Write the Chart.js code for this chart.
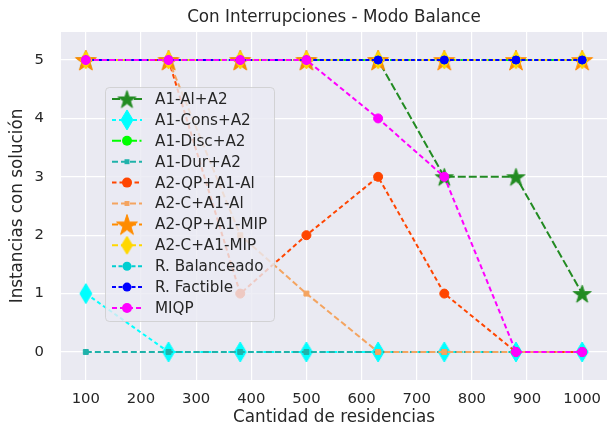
<!DOCTYPE html>
<html>
<head>
<meta charset="utf-8">
<script src="https://cdn.jsdelivr.net/npm/chart.js@4.4.1/dist/chart.umd.min.js"></script>
<style>
  html, body { margin: 0; padding: 0; background: #fff; }
  #wrap { width: 616px; height: 430px; }
</style>
</head>
<body>
<div id="wrap"><canvas id="c" width="616" height="430"></canvas></div>
<script>
// datos
const residencias = [100, 250, 380, 500, 630, 750, 880, 1000];
const xTicks = [100, 200, 300, 400, 500, 600, 700, 800, 900, 1000];
const yTicks = [0, 1, 2, 3, 4, 5];

const a1AlA2    = [5, 5, 5, 5, 5, 3, 3, 1];
const a1ConsA2  = [1, 0, 0, 0, 0, 0, 0, 0];
const a1DiscA2  = [5, 5, 5, 5, 5, 5, 5, 5];
const a1DurA2   = [0, 0, 0, 0, 0, 0, 0, 0];
const a2QpA1Al  = [5, 5, 1, 2, 3, 1, 0, 0];
const a2CA1Al   = [5, 5, 2, 1, 0, 0, 0, 0];
const a2QpA1Mip = [5, 5, 5, 5, 5, 5, 5, 5];
const a2CA1Mip  = [5, 5, 5, 5, 5, 5, 5, 5];
const rBalanceado = [5, 5, 5, 5, 5, 5, 5, 5];
const rFactible   = [5, 5, 5, 5, 5, 5, 5, 5];
const miqp        = [5, 5, 5, 5, 4, 3, 0, 0];

const FONT = "DejaVu Sans";
const INK = "#262626";

// marcadores estilo matplotlib
function starMarker(R, color) {
  const s = Math.ceil(2 * R + 4), c = document.createElement("canvas");
  c.width = c.height = s;
  const g = c.getContext("2d"), r = R * 0.381966;
  g.beginPath();
  for (let i = 0; i < 10; i++) {
    const rad = i % 2 ? r : R, a = -Math.PI / 2 + i * Math.PI / 5;
    g.lineTo(s / 2 + rad * Math.cos(a), s / 2 + R * 0.1 + rad * Math.sin(a));
  }
  g.closePath();
  g.fillStyle = color; g.strokeStyle = color; g.lineWidth = 1;
  g.fill(); g.stroke();
  return c;
}
function diamondMarker(w, h, color) {
  const c = document.createElement("canvas");
  c.width = Math.ceil(w + 4); c.height = Math.ceil(h + 4);
  const g = c.getContext("2d"), cx = c.width / 2, cy = c.height / 2;
  g.beginPath();
  g.moveTo(cx, cy - h / 2); g.lineTo(cx + w / 2, cy);
  g.lineTo(cx, cy + h / 2); g.lineTo(cx - w / 2, cy);
  g.closePath();
  g.fillStyle = color; g.strokeStyle = color; g.lineWidth = 1;
  g.fill(); g.stroke();
  return c;
}

const series = [
  { label: "A1-Al+A2",      data: a1AlA2,    color: "#228B22", dash: [8, 3],  marker: starMarker(9.5, "#228B22") },
  { label: "A1-Cons+A2",    data: a1ConsA2,  color: "#00FFFF", dash: [4, 3],  marker: diamondMarker(12, 20, "#00FFFF") },
  { label: "A1-Disc+A2",    data: a1DiscA2,  color: "#00FF00", dash: [9, 2.5, 2, 2.5], marker: "circle", r: 4.5 },
  { label: "A1-Dur+A2",     data: a1DurA2,   color: "#20B2AA", dash: [6, 3],  marker: "rect", r: 3.5 },
  { label: "A2-QP+A1-Al",   data: a2QpA1Al,  color: "#FF4500", dash: [4.5, 3], marker: "circle", r: 4.5 },
  { label: "A2-C+A1-Al",    data: a2CA1Al,   color: "#F4A460", dash: [6, 3],  marker: "rect", r: 3.5 },
  { label: "A2-QP+A1-MIP",  data: a2QpA1Mip, color: "#FF8C00", dash: [6, 3],  marker: starMarker(11, "#FF8C00") },
  { label: "A2-C+A1-MIP",   data: a2CA1Mip,  color: "#FFD700", dash: [6, 3],  marker: diamondMarker(11, 18, "#FFD700") },
  { label: "R. Balanceado", data: rBalanceado, color: "#00CED1", dash: [4, 2.5], marker: "circle", r: 4 },
  { label: "R. Factible",   data: rFactible, color: "#0000FF", dash: [4, 2.5], marker: "circle", r: 4 },
  { label: "MIQP",          data: miqp,      color: "#FF00FF", dash: [5, 3],  marker: "circle", r: 4.5 },
];

const datasets = series.map((s, i) => ({
  label: s.label,
  data: s.data.map((v, k) => ({ x: residencias[k], y: v })),
  borderColor: s.color,
  backgroundColor: s.color,
  borderWidth: 2,
  borderDash: s.dash,
  pointStyle: s.marker,
  pointRadius: s.r || 8,
  pointBorderWidth: 1,
  pointBorderColor: s.color,
  pointBackgroundColor: s.color,
  order: series.length - i,   // el último queda encima, como en matplotlib
  clip: false,
}));

const bgPlugin = {
  id: "bg",
  beforeDraw(chart) {
    const { ctx, chartArea: a } = chart;
    ctx.save();
    ctx.fillStyle = "#EAEAF2";
    ctx.fillRect(a.left, a.top, a.right - a.left, a.bottom - a.top);
    ctx.restore();
  },
};

const legendPlugin = {
  id: "mplLegend",
  afterDatasetsDraw(chart) {
    const ctx = chart.ctx;
    const bx = 105, by = 87, bw = 169, bh = 234, row0 = 99, rowH = 20.9;
    ctx.save();
    ctx.beginPath();
    ctx.roundRect(bx + 0.5, by + 0.5, bw, bh, 4);
    ctx.fillStyle = "rgba(234,234,242,0.8)";
    ctx.fill();
    ctx.strokeStyle = "rgba(204,204,204,0.8)";
    ctx.lineWidth = 1;
    ctx.stroke();
    series.forEach((s, i) => {
      const y = row0 + i * rowH;
      ctx.setLineDash(s.dash);
      ctx.strokeStyle = s.color;
      ctx.lineWidth = 2;
      ctx.beginPath(); ctx.moveTo(112, y); ctx.lineTo(142, y); ctx.stroke();
      ctx.setLineDash([]);
      ctx.fillStyle = s.color;
      if (s.marker === "circle") {
        ctx.beginPath(); ctx.arc(127, y, s.r + 0.5, 0, Math.PI * 2); ctx.fill();
      } else if (s.marker === "rect") {
        const h = s.r * Math.SQRT1_2;
        ctx.fillRect(127 - h, y - h, 2 * h, 2 * h);
      } else {
        ctx.drawImage(s.marker, 127 - s.marker.width / 2, y - s.marker.height / 2);
      }
      ctx.fillStyle = INK;
      ctx.font = `15.2px "${FONT}"`;
      ctx.textBaseline = "middle";
      ctx.fillText(s.label, 155, y + 1);
    });
    ctx.restore();
  },
};

const textPlugin = {
  id: "texts",
  afterDraw(chart) {
    const { ctx, chartArea: a } = chart;
    const cx = (a.left + a.right) / 2;
    ctx.save();
    ctx.fillStyle = INK;
    ctx.textAlign = "center";
    ctx.textBaseline = "middle";
    ctx.font = `16.8px "${FONT}"`;
    ctx.fillText("Con Interrupciones - Modo Balance", cx, 18);
    ctx.fillText("Cantidad de residencias", cx, 418);
    ctx.translate(18, (a.top + a.bottom) / 2);
    ctx.rotate(-Math.PI / 2);
    ctx.fillText("Instancias con solución", 0, 0);
    ctx.restore();
  },
};

new Chart(document.getElementById("c"), {
  type: "line",
  data: { datasets },
  options: {
    responsive: false,
    animation: false,
    events: [],
    layout: { padding: { top: 32, right: 3, left: 0, bottom: 0 } },
    plugins: { legend: { display: false }, title: { display: false }, tooltip: { enabled: false } },
    scales: {
      x: {
        type: "linear", min: 55, max: 1045,
        afterBuildTicks: (s) => { s.ticks = xTicks.map((v) => ({ value: v })); },
        afterFit: (s) => { s.height = 50; },
        grid: { color: "#FFFFFF", lineWidth: 1.2, drawTicks: false },
        border: { display: false },
        ticks: { color: INK, font: { family: FONT, size: 14.8 }, padding: 10, maxRotation: 0, callback: (v) => String(v) },
      },
      y: {
        type: "linear", min: -0.48, max: 5.48,
        afterBuildTicks: (s) => { s.ticks = yTicks.map((v) => ({ value: v })); },
        afterFit: (s) => { s.width = 61; },
        grid: { color: "#FFFFFF", lineWidth: 1.2, drawTicks: false },
        border: { display: false },
        ticks: { color: INK, font: { family: FONT, size: 14.8 }, padding: 17, callback: (v) => String(v) },
      },
    },
  },
  plugins: [bgPlugin, legendPlugin, textPlugin],
});
</script>
</body>
</html>
